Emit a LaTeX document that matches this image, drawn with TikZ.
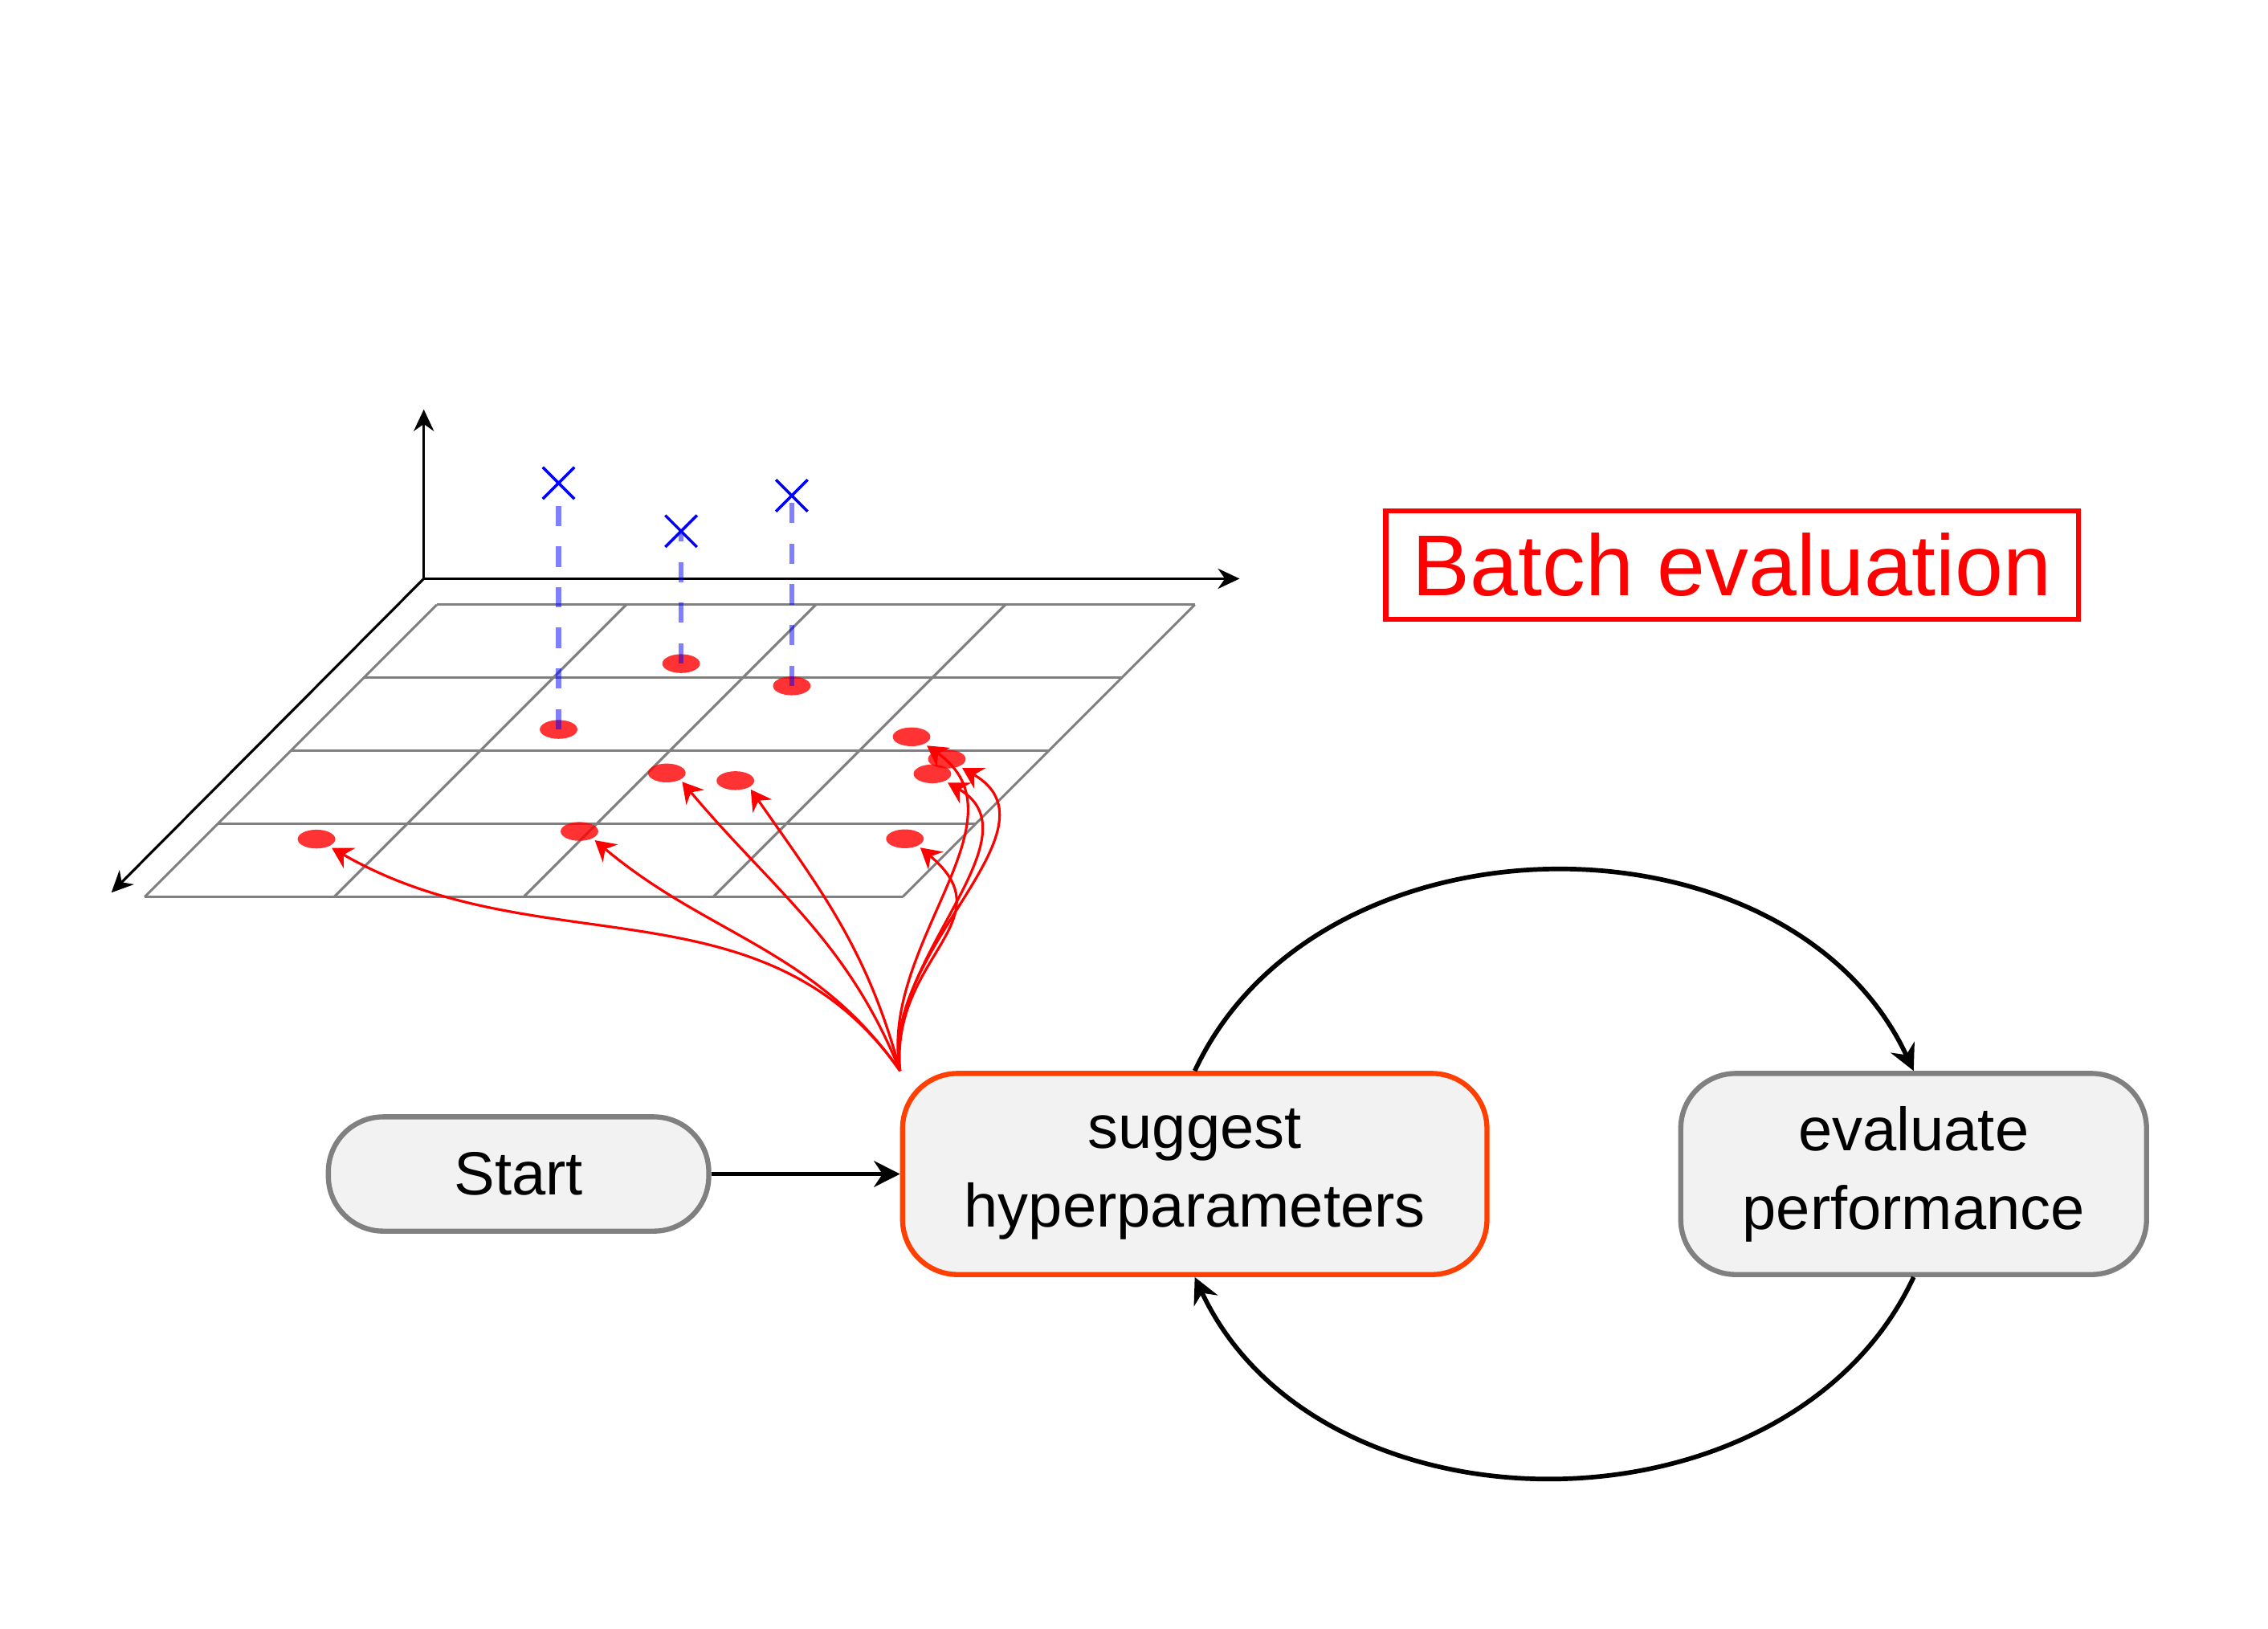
\documentclass[tikz,border=0pt]{standalone}
\usepackage{fontspec}
\setmainfont{Liberation Sans}
\usetikzlibrary{arrows.meta,positioning,shapes.geometric,shapes.misc}
\definecolor{fire}{RGB}{255,64,0}
\definecolor{shade}{RGB}{242,242,242}
\tikzset{
  >={Stealth[length=1.8mm,width=1.8mm]},
  stage/.style={draw=#1,fill=shade,line width=1pt,rounded corners=3.8mm,align=center,
    font=\fontsize{12}{15.5}\selectfont,inner sep=0pt},
  stage/.default=gray,
  flow/.style={->,line width=0.9pt,draw=black},
  batch/.style={draw=red,line width=1pt,text=red,minimum width=47.9mm,minimum height=7.5mm,
    font=\fontsize{17}{20}\selectfont,inner sep=0pt},
  axis/.style={-{Stealth[length=1.5mm,width=1.4mm]},line width=0.5pt},
  gridline/.style={gray,line width=0.5pt},
  dot/.style={ellipse,fill=red,fill opacity=0.8,minimum width=2.6mm,minimum height=1.3mm,
    inner sep=0pt,outer sep=0.6pt},
  xmark/.style={cross out,draw=blue,line width=0.55pt,minimum size=2mm,inner sep=0pt},
  drop/.style={blue,draw opacity=0.5,line width=1pt,dash pattern=on 4pt off 4pt},
  pick/.style={-{Stealth[length=1.4mm,width=1.6mm]},red,line width=0.5pt},
}
\begin{document}
\begin{tikzpicture}
  \useasboundingbox (0,0) rectangle (15.68,-11.26);
  % search space
  \coordinate (o) at (2.93,-4.00);
  \coordinate (zend) at (2.93,-2.83);
  \coordinate (xend) at (8.57,-4.00);
  \coordinate (yend) at (0.77,-6.17);
  \foreach \i in {0,...,4} \draw[gridline] (3.02+1.31*\i,-4.18) -- ++(-2.02,-2.02);
  \foreach \j in {0,...,4} \draw[gridline] (3.02-0.505*\j,-4.18-0.505*\j) -- ++(5.24,0);
  \draw[axis] (o) -- (zend);
  \draw[axis] (o) -- (xend);
  \draw[axis] (o) -- (yend);
  % sampled points
  \foreach \n/\x/\y in {1/3.862/5.042,2/4.709/4.587,3/5.474/4.741,4/6.302/5.093,
    5/6.546/5.247,6/6.446/5.349,7/4.61/5.343,8/5.084/5.396,9/2.188/5.80,
    10/4.006/5.747,11/6.256/5.798}
    \node[dot] (d\n) at (\x,-\y) {};
  \node[xmark] (c1) at (3.862,-3.339) {};
  \node[xmark] (c2) at (4.709,-3.672) {};
  \node[xmark] (c3) at (5.474,-3.426) {};
  \foreach \n in {1,2,3} \draw[drop] (d\n.center) -- (c\n.center);
  % loop
  \node[stage,minimum width=26.3mm,minimum height=7.9mm] (start) at (3.585,-8.115) {Start};
  \node[stage=fire,minimum width=40.4mm,minimum height=13.9mm] (suggest) at (8.26,-8.115)
    {suggest\\hyperparameters};
  \node[stage,minimum width=32.2mm,minimum height=13.9mm] (evaluate) at (13.23,-8.115)
    {evaluate\\performance};
  \node[batch] (batch) at (11.975,-3.905) {Batch evaluation};
  \draw[flow] (start) -- (suggest);
  \draw[flow] (suggest.north) to[out=65,in=115,looseness=1.05] (evaluate.north);
  \draw[flow] (evaluate.south) to[out=-115,in=-65,looseness=1.05] (suggest.south);
  \foreach \n/\o/\i/\l in {9/125/-30/1,10/125/-40/1,7/112/-50/1,8/105/-55/1,
    11/95/-40/1.3,4/100/-35/1,6/100/-30/0.95,5/100/-30/1}
    \draw[pick] (suggest.north west) to[out=\o,in=\i,looseness=\l] (d\n.-30);
\end{tikzpicture}
\end{document}
